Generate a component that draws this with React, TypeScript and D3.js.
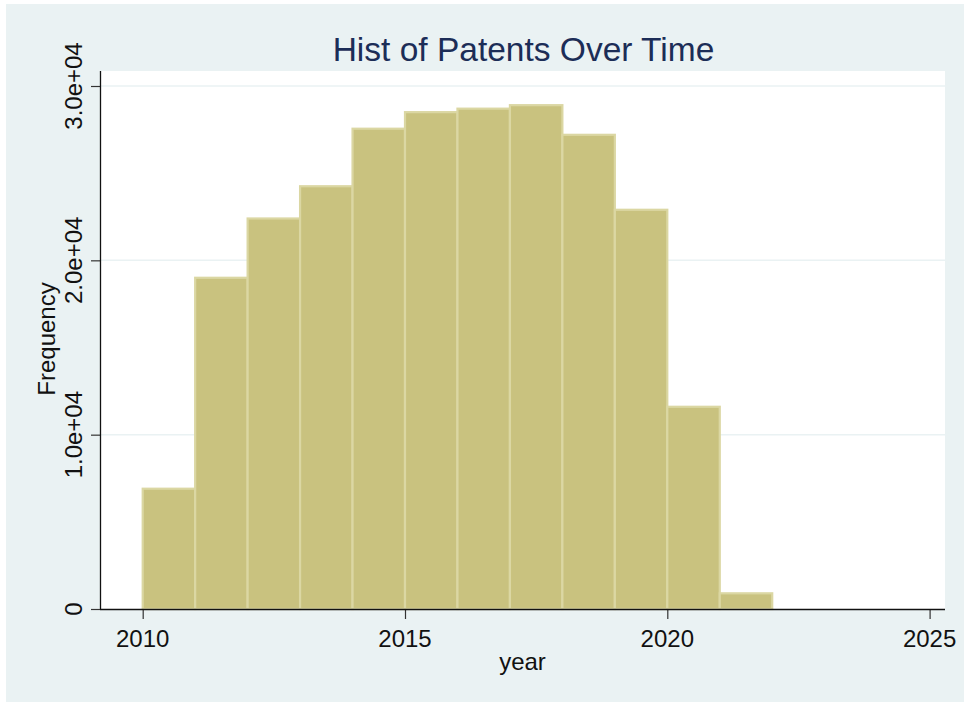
import React, { useRef, useEffect } from "react";
import * as d3 from "d3";

// histogram bins (start year, width 1) and frequencies
const binStarts = [2010, 2011, 2012, 2013, 2014, 2015, 2016, 2017, 2018, 2019, 2020, 2021];
const frequencies = [6900, 19000, 22400, 24250, 27550, 28500, 28700, 28900, 27200, 22900, 11600, 900];
const xTicks = [2010, 2015, 2020, 2025];
const yTicks = [0, 10000, 20000, 30000];
const yTickLabels = ["0", "1.0e+04", "2.0e+04", "3.0e+04"];

const App = () => {
  const svgRef = useRef<SVGSVGElement>(null);
  const fullWidth = 964;
  const fullHeight = 702;

  useEffect(() => {
    const svg = d3.select(svgRef.current);
    svg.selectAll("*").remove();
    const font = "'Liberation Sans', Arial, sans-serif";

    // plot region
    const left = 100;
    const right = 945;
    const top = 71;
    const bottom = 609;

    const xScale = d3.scaleLinear().domain([2010, 2025]).range([142.7, 929.6]);
    const yScale = d3.scaleLinear().domain([0, 30000]).range([bottom, 86]);

    // graph background
    svg
      .append("rect")
      .attr("x", 6)
      .attr("y", 4)
      .attr("width", fullWidth - 6)
      .attr("height", fullHeight - 4)
      .attr("fill", "#EAF2F3");

    svg
      .append("rect")
      .attr("x", left)
      .attr("y", top)
      .attr("width", right - left)
      .attr("height", bottom - top)
      .attr("fill", "#FFFFFF");

    // gridlines
    svg
      .append("g")
      .selectAll("line")
      .data(yTicks.filter((d) => d > 0))
      .join("line")
      .attr("x1", left)
      .attr("x2", right)
      .attr("y1", (d) => yScale(d))
      .attr("y2", (d) => yScale(d))
      .attr("stroke", "#EAF2F3")
      .attr("stroke-width", 1.5);

    // bars
    svg
      .append("g")
      .selectAll("rect")
      .data(binStarts)
      .join("rect")
      .attr("x", (d) => xScale(d))
      .attr("y", (d, i) => yScale(frequencies[i]))
      .attr("width", (d) => xScale(d + 1) - xScale(d))
      .attr("height", (d, i) => bottom - yScale(frequencies[i]))
      .attr("fill", "#C9C27F")
      .attr("stroke", "#DBD7A3")
      .attr("stroke-width", 2.2);

    // y axis
    const yAxis = d3
      .axisLeft(yScale)
      .tickValues(yTicks)
      .tickSize(9)
      .tickFormat(() => "");
    const yAxisGroup = svg
      .append("g")
      .attr("transform", `translate(${left},0)`)
      .call(yAxis);
    yAxisGroup.select(".domain").remove();
    yAxisGroup.selectAll(".tick line").attr("stroke", "#333").attr("stroke-width", 1.2);
    svg
      .append("line")
      .attr("x1", left + 0.5)
      .attr("x2", left + 0.5)
      .attr("y1", top)
      .attr("y2", bottom)
      .attr("stroke", "#111")
      .attr("stroke-width", 1.3);

    svg
      .append("g")
      .selectAll("text")
      .data(yTicks)
      .join("text")
      .attr("transform", (d) => `translate(82,${yScale(d)}) rotate(-90)`)
      .attr("text-anchor", "middle")
      .attr("font-family", font)
      .attr("font-size", 24)
      .attr("fill", "#111")
      .text((d, i) => yTickLabels[i]);

    // x axis
    const xAxis = d3
      .axisBottom(xScale)
      .tickValues(xTicks)
      .tickSize(10)
      .tickFormat(() => "");
    const xAxisGroup = svg
      .append("g")
      .attr("transform", `translate(0,${bottom})`)
      .call(xAxis);
    xAxisGroup.select(".domain").remove();
    xAxisGroup.selectAll(".tick line").attr("stroke", "#333").attr("stroke-width", 1.2);
    svg
      .append("line")
      .attr("x1", left)
      .attr("x2", right)
      .attr("y1", bottom + 0.5)
      .attr("y2", bottom + 0.5)
      .attr("stroke", "#111")
      .attr("stroke-width", 1.3);

    svg
      .append("g")
      .selectAll("text")
      .data(xTicks)
      .join("text")
      .attr("x", (d) => xScale(d))
      .attr("y", 647)
      .attr("text-anchor", "middle")
      .attr("font-family", font)
      .attr("font-size", 24)
      .attr("fill", "#111")
      .text((d) => `${d}`);

    // axis titles
    svg
      .append("text")
      .attr("x", (left + right) / 2)
      .attr("y", 670)
      .attr("text-anchor", "middle")
      .attr("font-family", font)
      .attr("font-size", 24)
      .attr("fill", "#111")
      .text("year");

    svg
      .append("text")
      .attr("transform", `translate(55,339) rotate(-90)`)
      .attr("text-anchor", "middle")
      .attr("font-family", font)
      .attr("font-size", 24)
      .attr("fill", "#111")
      .text("Frequency");

    // title
    svg
      .append("text")
      .attr("x", (left + right) / 2 + 1)
      .attr("y", 61)
      .attr("text-anchor", "middle")
      .attr("font-family", font)
      .attr("font-size", 33.5)
      .attr("fill", "#1C2D57")
      .text("Hist of Patents Over Time");
  }, []);

  return (
    <div>
      <svg
        ref={svgRef}
        width={fullWidth}
        height={fullHeight}
        style={{ position: "absolute", left: 0, top: 0, background: "#FFFFFF" }}
      ></svg>
    </div>
  );
};

export default App;
